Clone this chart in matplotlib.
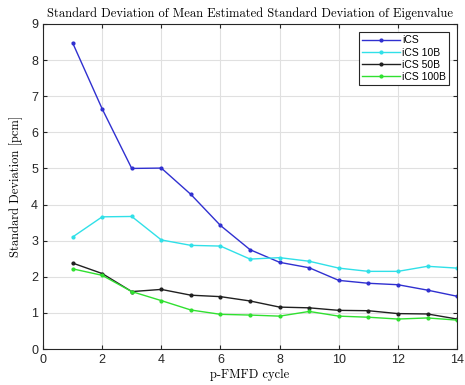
import matplotlib
matplotlib.use("Agg")
import matplotlib.pyplot as plt

cycles = list(range(1, 15))
ics = [8.48, 6.65, 5.0, 5.01, 4.28, 3.42, 2.75, 2.40, 2.25, 1.90, 1.82, 1.78, 1.63, 1.46]
ics_10b = [3.10, 3.66, 3.67, 3.02, 2.87, 2.85, 2.49, 2.53, 2.43, 2.24, 2.15, 2.15, 2.29, 2.24]
ics_50b = [2.38, 2.09, 1.59, 1.65, 1.49, 1.45, 1.33, 1.16, 1.14, 1.07, 1.06, 0.98, 0.97, 0.83]
ics_100b = [2.22, 2.04, 1.59, 1.34, 1.08, 0.96, 0.94, 0.91, 1.04, 0.91, 0.88, 0.83, 0.86, 0.80]
labels = ["iCS", "iCS 10B", "iCS 50B", "iCS 100B"]
colors = ["#3030d0", "#30e0e8", "#202020", "#30e030"]
xticks = list(range(0, 15, 2))
yticks = list(range(0, 10))

plt.rcParams["font.family"] = ["Liberation Sans", "DejaVu Sans"]

fig = plt.figure(figsize=(4.65, 3.85), dpi=100)
ax = fig.add_axes([0.0925, 0.0935, 0.8905, 0.8442])
for ys, lab, c in zip([ics, ics_10b, ics_50b, ics_100b], labels, colors):
    ax.plot(cycles, ys, '.-', color=c, lw=1.0, ms=4, label=lab)

ax.set_xlim(0, 14)
ax.set_ylim(0, 9)
ax.set_xticks(xticks)
ax.set_yticks(yticks)
ax.grid(True, color="#e0e0e0", lw=0.8)
ax.set_axisbelow(True)
ax.tick_params(direction="in", top=True, right=True, labelsize=9, colors="#262626", length=3)
for s in ax.spines.values():
    s.set_color("#262626")
    s.set_linewidth(0.8)

serif = {"family": "cmr10", "size": 9.0}
ax.set_title("Standard Deviation of Mean Estimated Standard Deviation of Eigenvalue", fontdict=serif, pad=5)
ax.set_xlabel("p-FMFD cycle", fontdict=serif, labelpad=2)
ax.set_ylabel("Standard Deviation [pcm]", fontdict=serif, labelpad=6)

leg = ax.legend(loc="upper right", fontsize=7.5, frameon=True, fancybox=False,
                edgecolor="#262626", framealpha=1, handlelength=3.6, borderpad=0.3,
                labelspacing=0.2, handletextpad=0.2, borderaxespad=0.8)
leg.get_frame().set_linewidth(0.8)

fig.savefig("out.png", dpi=100)
